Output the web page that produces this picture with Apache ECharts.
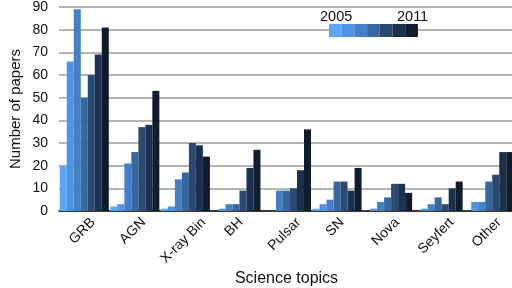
<!DOCTYPE html>
<html>
<head>
<meta charset="utf-8">
<title>Science topics</title>
<script src="https://cdn.jsdelivr.net/npm/echarts@6/dist/echarts.min.js"></script>
<style>
    html, body { margin: 0; padding: 0; background: #fff; }
    #main { width: 512px; height: 288px; }
</style>
</head>
<body>
<div id="main"></div>
<script>
// categories on the x axis
const categories = ['GRB', 'AGN', 'X-ray Bin', 'BH', 'Pulsar', 'SN', 'Nova', 'Seyfert', 'Other']
const years = ['2005', '2006', '2007', '2008', '2009', '2010', '2011']

// papers per topic, one array per year
const y2005 = [20, 2, 1, 0, 0, 1, 0, 0, 0]
const y2006 = [66, 3, 2, 1, 0, 3, 1, 1, 4]
const y2007 = [89, 21, 14, 3, 9, 5, 4, 3, 4]
const y2008 = [50, 26, 17, 3, 9, 13, 6, 6, 13]
const y2009 = [60, 37, 30, 9, 10, 13, 12, 3, 16]
const y2010 = [69, 38, 29, 19, 18, 9, 12, 10, 26]
const y2011 = [81, 53, 24, 27, 36, 19, 8, 13, 26]
const yearValues = [y2005, y2006, y2007, y2008, y2009, y2010, y2011]

const colors = ['#5aa6f8', '#4c94e2', '#4580c6', '#38679f', '#2a4a71', '#1b3150', '#101d2c']
const font = '"Liberation Sans", Arial, Helvetica, sans-serif'
const labelSize = 14

// rotated labels hang from a common top line, centred under their group:
// pad each one by its own length so the rotated box lines up
const ctx = document.createElement('canvas').getContext('2d')
ctx.font = labelSize + 'px ' + font
const rich = {}
categories.forEach((c, i) => {
    const len = ctx.measureText(c).width
    const p = 2.8 + 0.5 * (len + 12)
    rich['c' + i] = { padding: [p - 2.8, p + 2.8, 0, 0], fontSize: labelSize, fontFamily: font, color: '#111' }
})

const myChart = echarts.init(document.getElementById('main'))

const series = years.map((y, i) => ({
    name: y,
    type: 'bar',
    data: yearValues[i],
    barGap: '0%',
    barCategoryGap: '3%',
    itemStyle: { color: colors[i] }
}))

myChart.setOption({
    animation: false,
    color: colors,
    grid: { left: 59, right: -2, top: 7, bottom: 77, outerBoundsMode: 'none', containLabel: false },
    legend: {
        data: years,
        left: 329,
        top: 24,
        padding: 0,
        icon: 'rect',
        itemWidth: 12.7,
        itemHeight: 13,
        itemGap: 0,
        selectedMode: false,
        formatter: () => '',
        textStyle: { fontSize: 1 }
    },
    graphic: [
        {   // year range over the legend swatches
            type: 'text', left: 320, top: 9,
            style: { text: years[0], font: '14.5px ' + font, fill: '#111' }
        },
        {
            type: 'text', left: 397, top: 9,
            style: { text: years[years.length - 1], font: '14.5px ' + font, fill: '#111' }
        }
    ],
    xAxis: {
        type: 'category',
        data: categories,
        name: 'Science topics',
        nameLocation: 'middle',
        nameGap: 60,
        nameMoveOverlap: false,
        nameTextStyle: { fontSize: 16, color: '#111', fontFamily: font },
        axisLine: { lineStyle: { color: '#111', width: 1.5 } },
        axisTick: { show: false },
        axisLabel: {
            rotate: 45,
            interval: 0,
            margin: 3,
            align: 'center',
            verticalAlign: 'middle',
            formatter: (v, i) => '{c' + i + '|' + v + '}',
            rich: rich,
            fontSize: labelSize,
            color: '#111',
            fontFamily: font
        }
    },
    yAxis: {
        type: 'value',
        min: 0,
        max: 90,
        interval: 10,
        name: 'Number of papers',
        nameLocation: 'middle',
        nameGap: 36,
        nameMoveOverlap: false,
        nameTextStyle: { fontSize: 15, color: '#111', fontFamily: font },
        axisLine: { show: false },
        axisTick: { show: false },
        axisLabel: { margin: 11, fontSize: 14, color: '#111', fontFamily: font },
        splitLine: { lineStyle: { color: '#b4b4b4', width: 2 } }
    },
    series: series
})
</script>
</body>
</html>
